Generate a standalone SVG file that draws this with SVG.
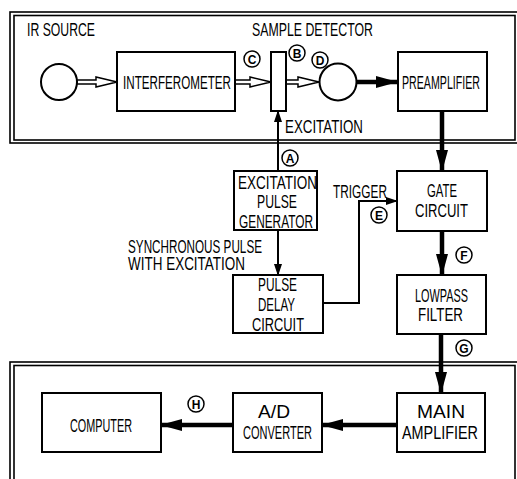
<svg xmlns="http://www.w3.org/2000/svg" width="517" height="479" viewBox="0 0 517 479">
<defs>
<style>
.frame{fill:none;stroke:#000;stroke-width:1.6}
.box{fill:#fff;stroke:#000;stroke-width:2}
.t{font-family:"Liberation Sans",Arial,sans-serif;font-size:18px;fill:#000;text-anchor:middle}
.thick{stroke:#000;stroke-width:4.5;fill:none}
.thin{stroke:#000;stroke-width:2;fill:none}
.hollow{fill:#fff;stroke:#000;stroke-width:1.5;stroke-linejoin:miter}
.lc{fill:#fff;stroke:#000;stroke-width:1.5}
.lt{font-family:"Liberation Sans",Arial,sans-serif;font-size:12px;font-weight:bold;text-anchor:middle;fill:#000}
</style>
<marker id="big" markerUnits="userSpaceOnUse" markerWidth="22" markerHeight="12" refX="21" refY="6" orient="auto"><path d="M0,0 L22,6 L0,12 z" fill="#000"/></marker>
<marker id="small" markerUnits="userSpaceOnUse" markerWidth="12" markerHeight="8" refX="11" refY="4" orient="auto"><path d="M0,0 L12,4 L0,8 z" fill="#000"/></marker>
</defs>

<g id="frames">
<rect class="frame" x="10" y="12" width="512" height="131"/>
<rect class="frame" x="14" y="15.5" width="501" height="124.5"/>
<rect class="frame" x="10" y="362" width="512" height="130"/>
<rect class="frame" x="14" y="365.5" width="501" height="130"/>
</g>

<g id="connectors">
<path class="hollow" d="M77,80 L96,80 L96,77 L117,82 L96,87 L96,84 L77,84 z"/>
<path class="hollow" d="M235,80 L250,80 L250,77 L271,82 L250,87 L250,84 L235,84 z"/>
<path class="hollow" d="M286,80 L298,80 L298,77 L319,82 L298,87 L298,84 L286,84 z"/>
<line class="thick" x1="357" y1="82" x2="397" y2="82" marker-end="url(#big)"/>
<line class="thick" x1="442" y1="111" x2="442" y2="171" marker-end="url(#big)"/>
<line class="thick" x1="442" y1="231" x2="442" y2="275" marker-end="url(#big)"/>
<line class="thick" x1="441" y1="334" x2="441" y2="393" marker-end="url(#big)"/>
<line class="thick" x1="397" y1="425" x2="322" y2="425" marker-end="url(#big)"/>
<line class="thick" x1="233" y1="425" x2="161" y2="425" marker-end="url(#big)"/>
<line class="thin" x1="278" y1="171" x2="278" y2="111" marker-end="url(#small)"/>
<line class="thin" x1="278" y1="230" x2="278" y2="275" marker-end="url(#small)"/>
<polyline class="thin" points="323,303 359,303 359,201 397,201" stroke-width="2.4" marker-end="url(#small)"/>
</g>

<g id="ir-source">
<text class="t" transform="translate(61,36) scale(0.6,1)" textLength="113.3" lengthAdjust="spacingAndGlyphs">IR SOURCE</text>
<circle cx="59" cy="82" r="18" fill="#fff" stroke="#000" stroke-width="2"/>
</g>
<g id="interferometer">
<rect class="box" x="117" y="52" width="118" height="59"/>
<text class="t" transform="translate(177,89) scale(0.6,1)" textLength="180" lengthAdjust="spacingAndGlyphs">INTERFEROMETER</text>
</g>
<g id="sample">
<rect class="box" x="271" y="52" width="15" height="59"/>
<text class="t" transform="translate(312.5,36) scale(0.6,1)" textLength="201.7" lengthAdjust="spacingAndGlyphs">SAMPLE DETECTOR</text>
<text class="t" transform="translate(324,133) scale(0.6,1)" textLength="130" lengthAdjust="spacingAndGlyphs">EXCITATION</text>
</g>
<g id="detector">
<circle cx="338" cy="82" r="18.5" fill="#fff" stroke="#000" stroke-width="2"/>
</g>
<g id="preamplifier">
<rect class="box" x="398" y="52" width="89" height="59"/>
<text class="t" transform="translate(441,89) scale(0.6,1)" textLength="130" lengthAdjust="spacingAndGlyphs">PREAMPLIFIER</text>
</g>
<g id="pulse-generator">
<rect class="box" x="234" y="171" width="83" height="59"/>
<text class="t" transform="translate(277.5,189) scale(0.6,1)" textLength="131.7" lengthAdjust="spacingAndGlyphs">EXCITATION</text>
<text class="t" transform="translate(277,208) scale(0.6,1)" textLength="66.7" lengthAdjust="spacingAndGlyphs">PULSE</text>
<text class="t" transform="translate(276,227.5) scale(0.6,1)" textLength="123.3" lengthAdjust="spacingAndGlyphs">GENERATOR</text>
</g>
<g id="sync-label">
<text class="t" transform="translate(195,252.5) scale(0.6,1)" textLength="223.3" lengthAdjust="spacingAndGlyphs">SYNCHRONOUS PULSE</text>
<text class="t" transform="translate(186.5,270) scale(0.6,1)" textLength="195" lengthAdjust="spacingAndGlyphs">WITH EXCITATION</text>
</g>
<g id="pulse-delay">
<rect class="box" x="233" y="275" width="90" height="58"/>
<text class="t" transform="translate(277.5,291) scale(0.6,1)" textLength="65" lengthAdjust="spacingAndGlyphs">PULSE</text>
<text class="t" transform="translate(276.5,311) scale(0.6,1)" textLength="61.7" lengthAdjust="spacingAndGlyphs">DELAY</text>
<text class="t" transform="translate(278,330.5) scale(0.6,1)" textLength="86.7" lengthAdjust="spacingAndGlyphs">CIRCUIT</text>
</g>
<g id="trigger-label">
<text class="t" transform="translate(360,198) scale(0.6,1)" textLength="90" lengthAdjust="spacingAndGlyphs">TRIGGER</text>
</g>
<g id="gate">
<rect class="box" x="397" y="171" width="90" height="60"/>
<text class="t" transform="translate(442,197) scale(0.6,1)" textLength="50" lengthAdjust="spacingAndGlyphs">GATE</text>
<text class="t" transform="translate(441.5,216.5) scale(0.6,1)" textLength="88.3" lengthAdjust="spacingAndGlyphs">CIRCUIT</text>
</g>
<g id="lowpass">
<rect class="box" x="397" y="275" width="89" height="59"/>
<text class="t" transform="translate(441.5,301.5) scale(0.6,1)" textLength="88.3" lengthAdjust="spacingAndGlyphs">LOWPASS</text>
<text class="t" transform="translate(440.5,320.5) scale(0.6,1)" textLength="75" lengthAdjust="spacingAndGlyphs">FILTER</text>
</g>
<g id="computer">
<rect class="box" x="42" y="393" width="119" height="59"/>
<text class="t" transform="translate(101,432) scale(0.6,1)" textLength="103.3" lengthAdjust="spacingAndGlyphs">COMPUTER</text>
</g>
<g id="ad-converter">
<rect class="box" x="233" y="393" width="89" height="59"/>
<text class="t" transform="translate(274,418) scale(0.6,1)" textLength="53.3" lengthAdjust="spacingAndGlyphs">A/D</text>
<text class="t" transform="translate(277.5,438.5) scale(0.6,1)" textLength="115" lengthAdjust="spacingAndGlyphs">CONVERTER</text>
</g>
<g id="main-amplifier">
<rect class="box" x="397" y="393" width="88" height="59"/>
<text class="t" transform="translate(441,418) scale(0.6,1)" textLength="80" lengthAdjust="spacingAndGlyphs">MAIN</text>
<text class="t" transform="translate(440,438.5) scale(0.6,1)" textLength="126.7" lengthAdjust="spacingAndGlyphs">AMPLIFIER</text>
</g>

<g id="point-labels">
<circle class="lc" cx="290" cy="158" r="8"/><text class="lt" x="290" y="162.5">A</text>
<circle class="lc" cx="297" cy="53" r="8"/><text class="lt" x="297" y="57.5">B</text>
<circle class="lc" cx="252" cy="59" r="8"/><text class="lt" x="252" y="63.5">C</text>
<circle class="lc" cx="320" cy="60" r="8"/><text class="lt" x="320" y="64.5">D</text>
<circle class="lc" cx="379" cy="215" r="8"/><text class="lt" x="379" y="219.5">E</text>
<circle class="lc" cx="464" cy="255" r="8"/><text class="lt" x="464" y="259.5">F</text>
<circle class="lc" cx="464" cy="348" r="8"/><text class="lt" x="464" y="352.5">G</text>
<circle class="lc" cx="196" cy="404" r="8"/><text class="lt" x="196" y="408.5">H</text>
</g>
</svg>
